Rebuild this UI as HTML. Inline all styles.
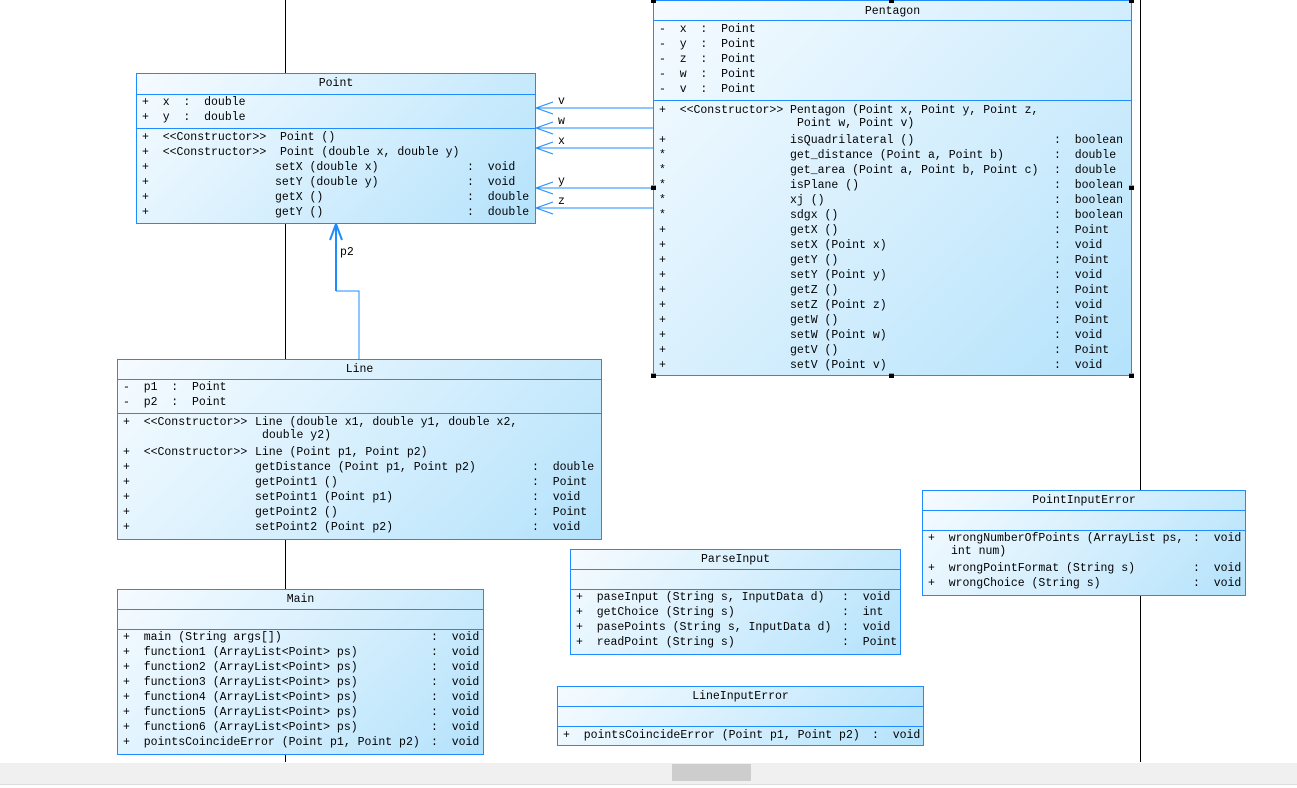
<!DOCTYPE html>
<html><head><meta charset="utf-8"><style>
body{margin:0;width:1297px;height:787px;position:relative;overflow:hidden;background:#fff;font-family:"Liberation Mono",monospace;font-size:11.5px;color:#000}
.b{position:absolute;border:1px solid #1e8cff;box-sizing:border-box;background:linear-gradient(135deg,#f6fbff 0%,#d6effd 50%,#b4e2fc 100%)}
.h{position:absolute;left:0;right:0;height:1px;background:#1e8cff}
.t{position:absolute;white-space:pre;line-height:14px;height:14px;margin-top:1px}
.c{position:absolute;left:0;right:0;text-align:center;line-height:14px;margin-top:1px}
.v{position:absolute;width:1px;background:#000}
.k{position:absolute;width:5px;height:5px;background:#000;border-top:1px solid #f80;box-sizing:border-box}
</style></head><body>
<div class="v" style="left:285px;top:0;height:762px"></div>
<div class="v" style="left:1140px;top:0;height:762px"></div>

<svg style="position:absolute;left:0;top:0" width="1297" height="787">
<g stroke="#1e8cff" fill="none" stroke-width="1">
<path d="M653 108H536M553 102L536 108L553 114"/>
<path d="M653 128H536M553 122L536 128L553 134"/>
<path d="M653 148H536M553 142L536 148L553 154"/>
<path d="M653 188H536M553 182L536 188L553 194"/>
<path d="M653 208H536M553 202L536 208L553 214"/>
<path d="M359 359V291H336"/>
<path d="M336 291V224M330 240L336 224L342 240" stroke-width="2"/>
</g>
<g font-family="Liberation Mono" font-size="11.5">
<text x="558" y="104">v</text><text x="558" y="124">w</text><text x="558" y="144">x</text>
<text x="558" y="184">y</text><text x="558" y="204">z</text><text x="340" y="255">p2</text>
</g>
</svg>

<!-- Point -->
<div class="b" style="left:136px;top:73px;width:400px;height:151px">
<div class="c" style="top:2px">Point</div><div class="h" style="top:20px"></div><div class="h" style="top:54px"></div></div>
<div class="t" style="left:142px;top:95px">+  x  :  double</div>
<div class="t" style="left:142px;top:110px">+  y  :  double</div>
<div class="t" style="left:142px;top:130px">+  &lt;&lt;Constructor&gt;&gt;  Point ()</div>
<div class="t" style="left:142px;top:145px">+  &lt;&lt;Constructor&gt;&gt;  Point (double x, double y)</div>
<div class="t" style="left:142px;top:160px">+</div><div class="t" style="left:275px;top:160px">setX (double x)</div><div class="t" style="left:467px;top:160px">:  void</div>
<div class="t" style="left:142px;top:175px">+</div><div class="t" style="left:275px;top:175px">setY (double y)</div><div class="t" style="left:467px;top:175px">:  void</div>
<div class="t" style="left:142px;top:190px">+</div><div class="t" style="left:275px;top:190px">getX ()</div><div class="t" style="left:467px;top:190px">:  double</div>
<div class="t" style="left:142px;top:205px">+</div><div class="t" style="left:275px;top:205px">getY ()</div><div class="t" style="left:467px;top:205px">:  double</div>

<!-- Pentagon -->
<div class="b" style="left:653px;top:0;width:479px;height:376px">
<div class="c" style="top:3px">Pentagon</div><div class="h" style="top:19px"></div><div class="h" style="top:99px"></div></div>
<div class="t" style="left:659px;top:22px">-  x  :  Point</div>
<div class="t" style="left:659px;top:37px">-  y  :  Point</div>
<div class="t" style="left:659px;top:52px">-  z  :  Point</div>
<div class="t" style="left:659px;top:67px">-  w  :  Point</div>
<div class="t" style="left:659px;top:82px">-  v  :  Point</div>
<div class="t" style="left:659px;top:103px">+  &lt;&lt;Constructor&gt;&gt;</div><div class="t" style="left:790px;top:103px">Pentagon (Point x, Point y, Point z,</div>
<div class="t" style="left:797px;top:116px">Point w, Point v)</div>
<div class="t" style="left:659px;top:133px">+</div><div class="t" style="left:790px;top:133px">isQuadrilateral ()</div><div class="t" style="left:1054px;top:133px">:  boolean</div>
<div class="t" style="left:659px;top:148px">*</div><div class="t" style="left:790px;top:148px">get_distance (Point a, Point b)</div><div class="t" style="left:1054px;top:148px">:  double</div>
<div class="t" style="left:659px;top:163px">*</div><div class="t" style="left:790px;top:163px">get_area (Point a, Point b, Point c)</div><div class="t" style="left:1054px;top:163px">:  double</div>
<div class="t" style="left:659px;top:178px">*</div><div class="t" style="left:790px;top:178px">isPlane ()</div><div class="t" style="left:1054px;top:178px">:  boolean</div>
<div class="t" style="left:659px;top:193px">*</div><div class="t" style="left:790px;top:193px">xj ()</div><div class="t" style="left:1054px;top:193px">:  boolean</div>
<div class="t" style="left:659px;top:208px">*</div><div class="t" style="left:790px;top:208px">sdgx ()</div><div class="t" style="left:1054px;top:208px">:  boolean</div>
<div class="t" style="left:659px;top:223px">+</div><div class="t" style="left:790px;top:223px">getX ()</div><div class="t" style="left:1054px;top:223px">:  Point</div>
<div class="t" style="left:659px;top:238px">+</div><div class="t" style="left:790px;top:238px">setX (Point x)</div><div class="t" style="left:1054px;top:238px">:  void</div>
<div class="t" style="left:659px;top:253px">+</div><div class="t" style="left:790px;top:253px">getY ()</div><div class="t" style="left:1054px;top:253px">:  Point</div>
<div class="t" style="left:659px;top:268px">+</div><div class="t" style="left:790px;top:268px">setY (Point y)</div><div class="t" style="left:1054px;top:268px">:  void</div>
<div class="t" style="left:659px;top:283px">+</div><div class="t" style="left:790px;top:283px">getZ ()</div><div class="t" style="left:1054px;top:283px">:  Point</div>
<div class="t" style="left:659px;top:298px">+</div><div class="t" style="left:790px;top:298px">setZ (Point z)</div><div class="t" style="left:1054px;top:298px">:  void</div>
<div class="t" style="left:659px;top:313px">+</div><div class="t" style="left:790px;top:313px">getW ()</div><div class="t" style="left:1054px;top:313px">:  Point</div>
<div class="t" style="left:659px;top:328px">+</div><div class="t" style="left:790px;top:328px">setW (Point w)</div><div class="t" style="left:1054px;top:328px">:  void</div>
<div class="t" style="left:659px;top:343px">+</div><div class="t" style="left:790px;top:343px">getV ()</div><div class="t" style="left:1054px;top:343px">:  Point</div>
<div class="t" style="left:659px;top:358px">+</div><div class="t" style="left:790px;top:358px">setV (Point v)</div><div class="t" style="left:1054px;top:358px">:  void</div>
<div class="k" style="left:651px;top:-2px"></div><div class="k" style="left:889px;top:-2px"></div><div class="k" style="left:1129px;top:-2px"></div>
<div class="k" style="left:651px;top:185px"></div><div class="k" style="left:1129px;top:185px"></div>
<div class="k" style="left:651px;top:373px"></div><div class="k" style="left:889px;top:373px"></div><div class="k" style="left:1129px;top:373px"></div>

<!-- Line -->
<div class="b" style="left:117px;top:359px;width:485px;height:181px">
<div class="c" style="top:2px">Line</div><div class="h" style="top:19px"></div><div class="h" style="top:53px"></div></div>
<div class="t" style="left:123px;top:380px">-  p1  :  Point</div>
<div class="t" style="left:123px;top:395px">-  p2  :  Point</div>
<div class="t" style="left:123px;top:415px">+  &lt;&lt;Constructor&gt;&gt;</div><div class="t" style="left:255px;top:415px">Line (double x1, double y1, double x2,</div>
<div class="t" style="left:262px;top:428px">double y2)</div>
<div class="t" style="left:123px;top:445px">+  &lt;&lt;Constructor&gt;&gt;</div><div class="t" style="left:255px;top:445px">Line (Point p1, Point p2)</div>
<div class="t" style="left:123px;top:460px">+</div><div class="t" style="left:255px;top:460px">getDistance (Point p1, Point p2)</div><div class="t" style="left:532px;top:460px">:  double</div>
<div class="t" style="left:123px;top:475px">+</div><div class="t" style="left:255px;top:475px">getPoint1 ()</div><div class="t" style="left:532px;top:475px">:  Point</div>
<div class="t" style="left:123px;top:490px">+</div><div class="t" style="left:255px;top:490px">setPoint1 (Point p1)</div><div class="t" style="left:532px;top:490px">:  void</div>
<div class="t" style="left:123px;top:505px">+</div><div class="t" style="left:255px;top:505px">getPoint2 ()</div><div class="t" style="left:532px;top:505px">:  Point</div>
<div class="t" style="left:123px;top:520px">+</div><div class="t" style="left:255px;top:520px">setPoint2 (Point p2)</div><div class="t" style="left:532px;top:520px">:  void</div>

<!-- Main -->
<div class="b" style="left:117px;top:589px;width:367px;height:166px">
<div class="c" style="top:2px">Main</div><div class="h" style="top:19px"></div><div class="h" style="top:39px"></div></div>
<div class="t" style="left:123px;top:630px">+  main (String args[])</div><div class="t" style="left:431px;top:630px">:  void</div>
<div class="t" style="left:123px;top:645px">+  function1 (ArrayList&lt;Point&gt; ps)</div><div class="t" style="left:431px;top:645px">:  void</div>
<div class="t" style="left:123px;top:660px">+  function2 (ArrayList&lt;Point&gt; ps)</div><div class="t" style="left:431px;top:660px">:  void</div>
<div class="t" style="left:123px;top:675px">+  function3 (ArrayList&lt;Point&gt; ps)</div><div class="t" style="left:431px;top:675px">:  void</div>
<div class="t" style="left:123px;top:690px">+  function4 (ArrayList&lt;Point&gt; ps)</div><div class="t" style="left:431px;top:690px">:  void</div>
<div class="t" style="left:123px;top:705px">+  function5 (ArrayList&lt;Point&gt; ps)</div><div class="t" style="left:431px;top:705px">:  void</div>
<div class="t" style="left:123px;top:720px">+  function6 (ArrayList&lt;Point&gt; ps)</div><div class="t" style="left:431px;top:720px">:  void</div>
<div class="t" style="left:123px;top:735px">+  pointsCoincideError (Point p1, Point p2)</div><div class="t" style="left:431px;top:735px">:  void</div>

<!-- ParseInput -->
<div class="b" style="left:570px;top:549px;width:331px;height:106px">
<div class="c" style="top:2px">ParseInput</div><div class="h" style="top:19px"></div><div class="h" style="top:39px"></div></div>
<div class="t" style="left:576px;top:590px">+  paseInput (String s, InputData d)</div><div class="t" style="left:842px;top:590px">:  void</div>
<div class="t" style="left:576px;top:605px">+  getChoice (String s)</div><div class="t" style="left:842px;top:605px">:  int</div>
<div class="t" style="left:576px;top:620px">+  pasePoints (String s, InputData d)</div><div class="t" style="left:842px;top:620px">:  void</div>
<div class="t" style="left:576px;top:635px">+  readPoint (String s)</div><div class="t" style="left:842px;top:635px">:  Point</div>

<!-- LineInputError -->
<div class="b" style="left:557px;top:686px;width:367px;height:60px">
<div class="c" style="top:2px">LineInputError</div><div class="h" style="top:19px"></div><div class="h" style="top:39px"></div></div>
<div class="t" style="left:563px;top:728px">+  pointsCoincideError (Point p1, Point p2)</div><div class="t" style="left:872px;top:728px">:  void</div>

<!-- PointInputError -->
<div class="b" style="left:922px;top:490px;width:324px;height:106px">
<div class="c" style="top:2px">PointInputError</div><div class="h" style="top:19px"></div><div class="h" style="top:39px"></div></div>
<div class="t" style="left:928px;top:531px">+  wrongNumberOfPoints (ArrayList ps,</div><div class="t" style="left:1193px;top:531px">:  void</div>
<div class="t" style="left:951px;top:544px">int num)</div>
<div class="t" style="left:928px;top:561px">+  wrongPointFormat (String s)</div><div class="t" style="left:1193px;top:561px">:  void</div>
<div class="t" style="left:928px;top:576px">+  wrongChoice (String s)</div><div class="t" style="left:1193px;top:576px">:  void</div>

<!-- scrollbar -->
<div style="position:absolute;left:0;top:763px;width:1297px;height:21px;background:#f0f0f0"></div>
<div style="position:absolute;left:0;top:784px;width:1297px;height:3px;background:#fff;border-top:1px solid #ddd"></div>
<div style="position:absolute;left:672px;top:764px;width:79px;height:17px;background:#cdcdcd"></div>
</body></html>
